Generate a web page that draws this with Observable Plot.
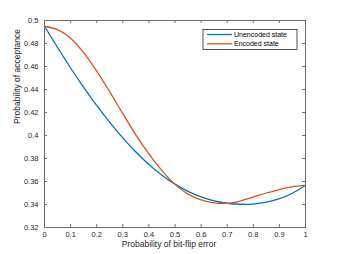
<!DOCTYPE html>
<html><head><meta charset="utf-8">
<script src="https://cdn.jsdelivr.net/npm/d3@7"></script>
<script src="https://cdn.jsdelivr.net/npm/@observablehq/plot@0.6"></script>
<style>body{margin:0;background:#fff}</style>
</head><body><div id="chart"></div>
<script>
const errorProb = [0,0.05,0.1,0.15,0.2,0.25,0.3,0.35,0.4,0.45,0.5,0.55,0.6,0.65,0.7,0.75,0.8,0.85,0.9,0.95,1];
const unencoded = [0.495,0.4765,0.4587,0.4419,0.4261,0.4114,0.3979,0.3856,0.3748,0.3655,0.3577,0.3514,0.3466,0.3432,0.3411,0.3402,0.3404,0.342,0.3451,0.3498,0.3567];
const encoded = [0.495,0.492,0.4845,0.472,0.456,0.438,0.419,0.4005,0.384,0.3695,0.3575,0.349,0.344,0.3415,0.341,0.343,0.3465,0.35,0.353,0.3555,0.3567];
const seriesNames = ["Unencoded state","Encoded state"];
const seriesColors = ["#0072BD","#D95319"];
const xTicks = [0,0.1,0.2,0.3,0.4,0.5,0.6,0.7,0.8,0.9,1];
const yTicks = [0.32,0.34,0.36,0.38,0.4,0.42,0.44,0.46,0.48,0.5];
const xLabel = "Probability of bit-flip error";
const yLabel = "Probability of acceptance";

const W = 337, H = 254, mL = 44, mR = 32, mT = 20, mB = 27;
const innerW = W - mL - mR, innerH = H - mT - mB;
const axisColor = "#6e6e6e";
const textColor = "#262626";
const fmt = d3.format("~g");

const data = errorProb.flatMap((p, i) => [
  {p, v: unencoded[i], s: seriesNames[0]},
  {p, v: encoded[i], s: seriesNames[1]}
]);

const chart = Plot.plot({
  width: W, height: H,
  marginLeft: mL, marginRight: mR, marginTop: mT, marginBottom: mB,
  style: {fontFamily: "'Liberation Sans', Arial, sans-serif", fontSize: "7.5px", color: textColor, background: "#fff"},
  x: {domain: [0, 1]},
  y: {domain: [0.32, 0.5]},
  color: {domain: seriesNames, range: seriesColors},
  marks: [
    Plot.axisX(xTicks, {tickSize: 0, tickPadding: 4, tickFormat: fmt, label: null, fill: textColor}),
    Plot.axisY(yTicks, {tickSize: 0, tickPadding: 6, tickFormat: fmt, label: null, fill: textColor}),
    Plot.tickX(xTicks, {x: d => d, insetTop: innerH - 3, stroke: axisColor}),
    Plot.tickX(xTicks, {x: d => d, insetBottom: innerH - 3, stroke: axisColor}),
    Plot.tickY(yTicks, {y: d => d, insetRight: innerW - 3, stroke: axisColor}),
    Plot.tickY(yTicks, {y: d => d, insetLeft: innerW - 3, stroke: axisColor}),
    Plot.line(data, {x: "p", y: "v", stroke: "s", z: "s", curve: "catmull-rom", strokeWidth: 1.3}),
    Plot.frame({stroke: axisColor, strokeWidth: 1}),
    Plot.text([xLabel], {frameAnchor: "bottom", text: d => d, dy: 19, dx: -6, fontSize: 8.5, fill: textColor}),
    Plot.text([yLabel], {frameAnchor: "left", text: d => d, rotate: -90, dx: -27, fontSize: 8.5, fill: textColor})
  ]
});

// legend box inside the plot area (top right)
const svg = d3.select(chart);
const lg = svg.append("g").attr("font-family", "'Liberation Sans', Arial, sans-serif").attr("font-size", 7).attr("text-anchor", "start");
const lx = 203, ly = 29.5, lw = 94, lh = 20;
lg.append("rect").attr("x", lx).attr("y", ly).attr("width", lw).attr("height", lh)
  .attr("fill", "#fff").attr("stroke", "#262626").attr("stroke-width", 0.8);
seriesNames.forEach((name, i) => {
  const yy = ly + 5 + i * 9.3;
  lg.append("line").attr("x1", lx + 4).attr("x2", lx + 29).attr("y1", yy).attr("y2", yy)
    .attr("stroke", seriesColors[i]).attr("stroke-width", 1.3);
  lg.append("text").attr("x", lx + 31).attr("y", yy).attr("dy", "0.35em").attr("fill", "#000").attr("text-anchor", "start").text(name);
});

document.getElementById("chart").appendChild(chart);
</script>
</body></html>
